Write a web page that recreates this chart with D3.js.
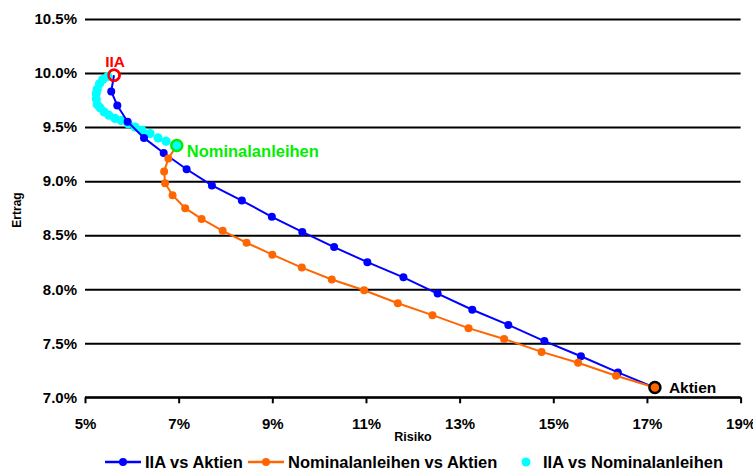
<!DOCTYPE html>
<html><head><meta charset="utf-8">
<script src="https://cdn.jsdelivr.net/npm/d3@7"></script>
<style>body{margin:0;background:#fff}svg{display:block;font-family:"Liberation Sans",Arial,sans-serif;font-weight:bold}</style>
</head><body><svg id="c" width="753" height="472"></svg>
<script>
// Risiko (%) and Ertrag (%) for each frontier
const iiaAktienRisk = [5.62,5.56,5.69,5.91,6.26,6.68,7.17,7.71,8.35,8.99,9.64,10.32,11.03,11.80,12.53,13.27,14.04,14.81,15.59,16.38,17.17];
const iiaAktienReturn = [9.98,9.83,9.70,9.55,9.40,9.26,9.11,8.96,8.82,8.67,8.53,8.39,8.25,8.11,7.96,7.81,7.67,7.52,7.38,7.23,7.09];
const nomAktienRisk = [6.96,6.78,6.69,6.71,6.87,7.14,7.49,7.94,8.45,9.00,9.63,10.27,10.96,11.68,12.42,13.19,13.95,14.75,15.53,16.34,17.17];
const nomAktienReturn = [9.33,9.21,9.09,8.98,8.87,8.75,8.65,8.54,8.43,8.32,8.20,8.09,7.99,7.87,7.76,7.64,7.54,7.42,7.32,7.20,7.09];
const iiaNomRisk = [5.49,5.38,5.31,5.26,5.24,5.24,5.26,5.32,5.41,5.51,5.64,5.77,5.92,6.07,6.22,6.39,6.56,6.73];
const iiaNomReturn = [9.97,9.94,9.90,9.85,9.81,9.76,9.71,9.68,9.64,9.61,9.58,9.56,9.53,9.50,9.47,9.44,9.40,9.37];
const anchorNames = ["IIA","Nominalanleihen","Aktien"];
const anchorRisk = [5.62,6.96,17.17];
const anchorReturn = [9.98,9.33,7.09];
const xTicks = [5,7,9,11,13,15,17,19];
const yTicks = [7.0,7.5,8.0,8.5,9.0,9.5,10.0,10.5];
const seriesNames = ["IIA vs Aktien","Nominalanleihen vs Aktien","IIA vs Nominalanleihen"];

const svg = d3.select("#c");
const x = d3.scaleLinear().domain([5,19]).range([85,740.6]);
const y = d3.scaleLinear().domain([7,10.5]).range([397.3,19]);
const FF = "Liberation Sans, Arial, sans-serif";

// grid lines + y labels
const ya = svg.append("g").attr("transform","translate(85,0)")
  .call(d3.axisLeft(y).tickValues(yTicks).tickSize(-(740.6-85)).tickPadding(8).tickFormat(d=>d.toFixed(1)+"%"));
ya.select(".domain").remove();
ya.selectAll(".tick line").attr("stroke","#000").attr("stroke-width",2);
ya.selectAll(".tick text").attr("font-size",15).attr("font-weight","bold").attr("font-family",FF).attr("fill","#000");

// x axis
const xa = svg.append("g").attr("transform","translate(0,"+y(7)+")")
  .call(d3.axisBottom(x).tickValues(xTicks).tickSize(6).tickPadding(15).tickFormat(d=>d+"%"));
xa.select(".domain").attr("stroke","#000").attr("stroke-width",2).attr("d","M85,0H740.6");
xa.selectAll(".tick line").attr("stroke","#000").attr("stroke-width",2);
xa.selectAll(".tick text").attr("font-size",15).attr("font-weight","bold").attr("font-family",FF).attr("fill","#000");

// axis titles
svg.append("text").attr("x",413).attr("y",441).attr("text-anchor","middle").attr("font-size",12.5).text("Risiko");
svg.append("text").attr("transform","translate(21,210) rotate(-90)").attr("text-anchor","middle").attr("font-size",12).text("Ertrag");

const line = d3.line().x(d=>x(d[0])).y(d=>y(d[1]));
const zip = (a,b)=>a.map((v,i)=>[v,b[i]]);

// IIA ring underneath the cyan dots
svg.append("circle").attr("cx",x(anchorRisk[0])).attr("cy",y(anchorReturn[0])).attr("r",5.5)
  .attr("fill","#fff").attr("stroke","#ff0000").attr("stroke-width",2.5);

// cyan
const cyan = zip(iiaNomRisk,iiaNomReturn);
svg.append("g").selectAll("circle").data(cyan).join("circle")
  .attr("cx",d=>x(d[0])).attr("cy",d=>y(d[1])).attr("r",4.6).attr("fill","#00ffff");

function series(data,color){
  svg.append("path").datum(data).attr("d",line).attr("fill","none").attr("stroke",color).attr("stroke-width",2);
  svg.append("g").selectAll("circle").data(data.slice(1,-1)).join("circle")
    .attr("cx",d=>x(d[0])).attr("cy",d=>y(d[1])).attr("r",4).attr("fill",color);
}
series(zip(iiaAktienRisk,iiaAktienReturn),"#0000ff");
series(zip(nomAktienRisk,nomAktienReturn),"#ff6600");

// anchors (IIA outline redrawn on top, unfilled)
const aStroke = ["#ff0000","#00ee00","#000"];
const aFill = ["none","#00ffff","#ff6600"];
anchorNames.forEach((n,i)=>{
  svg.append("circle").attr("cx",x(anchorRisk[i])).attr("cy",y(anchorReturn[i])).attr("r",5.5)
    .attr("fill",aFill[i]).attr("stroke",aStroke[i]).attr("stroke-width",2.5);
});
svg.append("text").attr("x",x(anchorRisk[0])+1).attr("y",y(anchorReturn[0])-8).attr("text-anchor","middle").attr("font-size",15.5).attr("fill","#ff0000").text(anchorNames[0]);
svg.append("text").attr("x",x(anchorRisk[1])+10).attr("y",y(anchorReturn[1])+12).attr("font-size",16.5).attr("fill","#00ee00").text(anchorNames[1]);
svg.append("text").attr("x",x(anchorRisk[2])+14).attr("y",y(anchorReturn[2])+5).attr("font-size",15.5).attr("fill","#000").text(anchorNames[2]);

// legend
const lg = svg.append("g").attr("transform","translate(0,462)");
const colors = ["#0000ff","#ff6600","#00ffff"];
const lx = [105,248,520];
seriesNames.forEach((n,i)=>{
  if(i<2){
    lg.append("line").attr("x1",lx[i]).attr("x2",lx[i]+36).attr("stroke",colors[i]).attr("stroke-width",2.5);
    lg.append("circle").attr("cx",lx[i]+18).attr("r",4).attr("fill",colors[i]);
  } else {
    lg.append("circle").attr("cx",lx[i]+6).attr("r",4.5).attr("fill",colors[i]);
  }
  lg.append("text").attr("x",i<2?lx[i]+40:lx[i]+23).attr("dy","0.36em").attr("font-size",16.5).text(n);
});
</script></body></html>
